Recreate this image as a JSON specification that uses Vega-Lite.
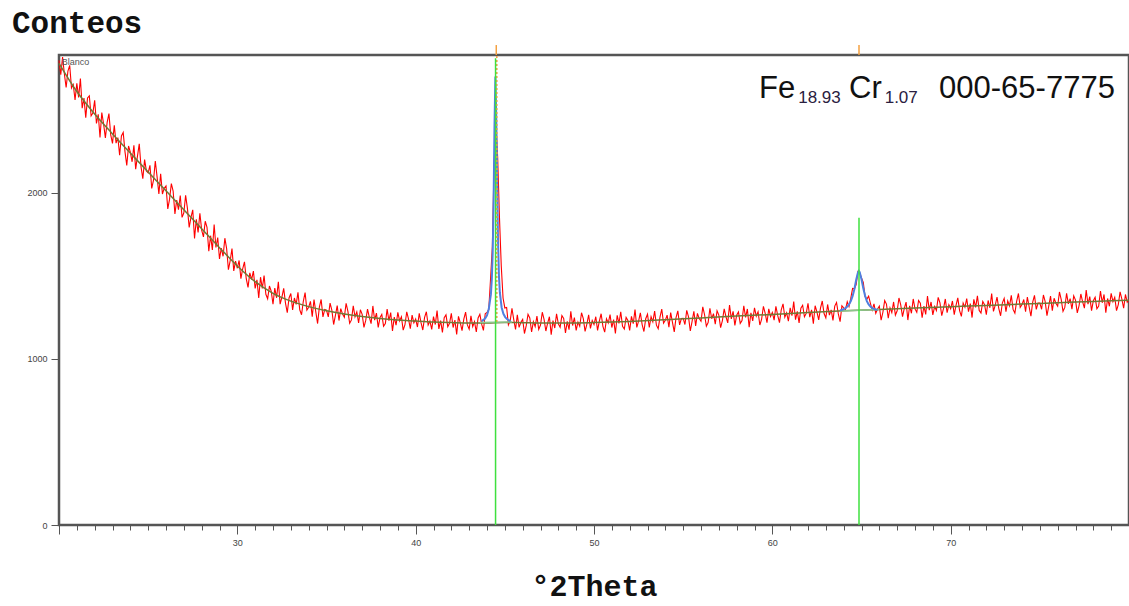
{
"$schema": "https://vega.github.io/schema/vega-lite/v6.json",
"width": 1070, "height": 470,
"autosize": {"type": "none"},
"padding": {"left": 59, "top": 55, "right": 0, "bottom": 81},
"background": "white",
"config": {"view": {"stroke": "#555", "strokeWidth": 2.5}, "font": "Liberation Sans"},
"title": {"text": "Conteos", "anchor": "start", "frame": "group", "font": "Liberation Mono", "fontSize": 31, "fontWeight": "bold", "color": "#111", "dx": -47, "offset": 4},
"datasets": {
"scan": [
{"t":20.0,"c":2798},{"t":20.1,"c":2711},{"t":20.2,"c":2818},{"t":20.3,"c":2717},{"t":20.4,"c":2634},{"t":20.5,"c":2733},{"t":20.6,"c":2768},{"t":20.7,"c":2631},{"t":20.8,"c":2652},{"t":20.9,"c":2559},
{"t":21.0,"c":2660},{"t":21.1,"c":2575},{"t":21.2,"c":2688},{"t":21.3,"c":2510},{"t":21.4,"c":2571},{"t":21.5,"c":2453},{"t":21.6,"c":2571},{"t":21.7,"c":2584},{"t":21.8,"c":2464},{"t":21.9,"c":2481},
{"t":22.0,"c":2557},{"t":22.1,"c":2418},{"t":22.2,"c":2473},{"t":22.3,"c":2334},{"t":22.4,"c":2484},{"t":22.5,"c":2415},{"t":22.6,"c":2331},{"t":22.7,"c":2424},{"t":22.8,"c":2477},{"t":22.9,"c":2349},
{"t":23.0,"c":2298},{"t":23.1,"c":2407},{"t":23.2,"c":2299},{"t":23.3,"c":2333},{"t":23.4,"c":2227},{"t":23.5,"c":2343},{"t":23.6,"c":2364},{"t":23.7,"c":2248},{"t":23.8,"c":2165},{"t":23.9,"c":2282},
{"t":24.0,"c":2245},{"t":24.1,"c":2187},{"t":24.2,"c":2286},{"t":24.3,"c":2143},{"t":24.4,"c":2221},{"t":24.5,"c":2295},{"t":24.6,"c":2156},{"t":24.7,"c":2085},{"t":24.8,"c":2200},{"t":24.9,"c":2132},
{"t":25.0,"c":2120},{"t":25.1,"c":2166},{"t":25.2,"c":2027},{"t":25.3,"c":2076},{"t":25.4,"c":2192},{"t":25.5,"c":2096},{"t":25.6,"c":1994},{"t":25.7,"c":2115},{"t":25.8,"c":1993},{"t":25.9,"c":2028},
{"t":26.0,"c":2042},{"t":26.1,"c":1903},{"t":26.2,"c":1962},{"t":26.3,"c":2056},{"t":26.4,"c":2011},{"t":26.5,"c":1873},{"t":26.6,"c":1956},{"t":26.7,"c":1899},{"t":26.8,"c":1984},{"t":26.9,"c":1852},
{"t":27.0,"c":1880},{"t":27.1,"c":1985},{"t":27.2,"c":1908},{"t":27.3,"c":1792},{"t":27.4,"c":1852},{"t":27.5,"c":1898},{"t":27.6,"c":1725},{"t":27.7,"c":1840},{"t":27.8,"c":1762},{"t":27.9,"c":1877},
{"t":28.0,"c":1776},{"t":28.1,"c":1735},{"t":28.2,"c":1829},{"t":28.3,"c":1792},{"t":28.4,"c":1648},{"t":28.5,"c":1742},{"t":28.6,"c":1656},{"t":28.7,"c":1809},{"t":28.8,"c":1671},{"t":28.9,"c":1731},
{"t":29.0,"c":1602},{"t":29.1,"c":1667},{"t":29.2,"c":1618},{"t":29.3,"c":1727},{"t":29.4,"c":1664},{"t":29.5,"c":1537},{"t":29.6,"c":1592},{"t":29.7,"c":1665},{"t":29.8,"c":1530},{"t":29.9,"c":1589},
{"t":30.0,"c":1546},{"t":30.1,"c":1593},{"t":30.2,"c":1483},{"t":30.3,"c":1542},{"t":30.4,"c":1584},{"t":30.5,"c":1483},{"t":30.6,"c":1431},{"t":30.7,"c":1518},{"t":30.8,"c":1478},{"t":30.9,"c":1529},
{"t":31.0,"c":1425},{"t":31.1,"c":1476},{"t":31.2,"c":1367},{"t":31.3,"c":1492},{"t":31.4,"c":1425},{"t":31.5,"c":1502},{"t":31.6,"c":1389},{"t":31.7,"c":1362},{"t":31.8,"c":1439},{"t":31.9,"c":1408},
{"t":32.0,"c":1329},{"t":32.1,"c":1426},{"t":32.2,"c":1368},{"t":32.3,"c":1465},{"t":32.4,"c":1330},{"t":32.5,"c":1372},{"t":32.6,"c":1425},{"t":32.7,"c":1336},{"t":32.8,"c":1279},{"t":32.9,"c":1367},
{"t":33.0,"c":1394},{"t":33.1,"c":1295},{"t":33.2,"c":1367},{"t":33.3,"c":1328},{"t":33.4,"c":1401},{"t":33.5,"c":1296},{"t":33.6,"c":1266},{"t":33.7,"c":1347},{"t":33.8,"c":1400},{"t":33.9,"c":1294},
{"t":34.0,"c":1311},{"t":34.1,"c":1347},{"t":34.2,"c":1255},{"t":34.3,"c":1358},{"t":34.4,"c":1283},{"t":34.5,"c":1213},{"t":34.6,"c":1312},{"t":34.7,"c":1358},{"t":34.8,"c":1253},{"t":34.9,"c":1297},
{"t":35.0,"c":1293},{"t":35.1,"c":1253},{"t":35.2,"c":1336},{"t":35.3,"c":1294},{"t":35.4,"c":1207},{"t":35.5,"c":1262},{"t":35.6,"c":1321},{"t":35.7,"c":1231},{"t":35.8,"c":1303},{"t":35.9,"c":1270},
{"t":36.0,"c":1251},{"t":36.1,"c":1335},{"t":36.2,"c":1286},{"t":36.3,"c":1215},{"t":36.4,"c":1235},{"t":36.5,"c":1319},{"t":36.6,"c":1254},{"t":36.7,"c":1283},{"t":36.8,"c":1217},{"t":36.9,"c":1296},
{"t":37.0,"c":1268},{"t":37.1,"c":1190},{"t":37.2,"c":1232},{"t":37.3,"c":1300},{"t":37.4,"c":1251},{"t":37.5,"c":1212},{"t":37.6,"c":1319},{"t":37.7,"c":1233},{"t":37.8,"c":1276},{"t":37.9,"c":1190},
{"t":38.0,"c":1249},{"t":38.1,"c":1268},{"t":38.2,"c":1197},{"t":38.3,"c":1213},{"t":38.4,"c":1300},{"t":38.5,"c":1230},{"t":38.6,"c":1279},{"t":38.7,"c":1168},{"t":38.8,"c":1252},{"t":38.9,"c":1203},
{"t":39.0,"c":1280},{"t":39.1,"c":1229},{"t":39.2,"c":1254},{"t":39.3,"c":1173},{"t":39.4,"c":1207},{"t":39.5,"c":1284},{"t":39.6,"c":1239},{"t":39.7,"c":1182},{"t":39.8,"c":1264},{"t":39.9,"c":1217},
{"t":40.0,"c":1240},{"t":40.1,"c":1192},{"t":40.2,"c":1275},{"t":40.3,"c":1218},{"t":40.4,"c":1174},{"t":40.5,"c":1250},{"t":40.6,"c":1284},{"t":40.7,"c":1204},{"t":40.8,"c":1228},{"t":40.9,"c":1178},
{"t":41.0,"c":1255},{"t":41.1,"c":1207},{"t":41.2,"c":1291},{"t":41.3,"c":1181},{"t":41.4,"c":1231},{"t":41.5,"c":1160},{"t":41.6,"c":1248},{"t":41.7,"c":1265},{"t":41.8,"c":1194},{"t":41.9,"c":1214},
{"t":42.0,"c":1274},{"t":42.1,"c":1189},{"t":42.2,"c":1234},{"t":42.3,"c":1148},{"t":42.4,"c":1256},{"t":42.5,"c":1218},{"t":42.6,"c":1170},{"t":42.7,"c":1240},{"t":42.8,"c":1282},{"t":42.9,"c":1205},
{"t":43.0,"c":1179},{"t":43.1,"c":1259},{"t":43.2,"c":1195},{"t":43.3,"c":1225},{"t":43.4,"c":1162},{"t":43.5,"c":1247},{"t":43.6,"c":1269},{"t":43.7,"c":1209},{"t":43.8,"c":1172},{"t":43.9,"c":1272},
{"t":44.0,"c":1280},{"t":44.1,"c":1299},{"t":44.2,"c":1484},{"t":44.3,"c":1676},{"t":44.4,"c":2186},{"t":44.5,"c":2418},{"t":44.6,"c":2209},{"t":44.7,"c":1850},{"t":44.8,"c":1560},{"t":44.9,"c":1367},
{"t":45.0,"c":1307},{"t":45.1,"c":1310},{"t":45.2,"c":1205},{"t":45.3,"c":1229},{"t":45.4,"c":1304},{"t":45.5,"c":1237},{"t":45.6,"c":1177},{"t":45.7,"c":1265},{"t":45.8,"c":1190},{"t":45.9,"c":1221},
{"t":46.0,"c":1238},{"t":46.1,"c":1153},{"t":46.2,"c":1200},{"t":46.3,"c":1269},{"t":46.4,"c":1247},{"t":46.5,"c":1162},{"t":46.6,"c":1225},{"t":46.7,"c":1195},{"t":46.8,"c":1258},{"t":46.9,"c":1178},
{"t":47.0,"c":1204},{"t":47.1,"c":1281},{"t":47.2,"c":1238},{"t":47.3,"c":1168},{"t":47.4,"c":1216},{"t":47.5,"c":1254},{"t":47.6,"c":1146},{"t":47.7,"c":1231},{"t":47.8,"c":1186},{"t":47.9,"c":1271},
{"t":48.0,"c":1211},{"t":48.1,"c":1191},{"t":48.2,"c":1261},{"t":48.3,"c":1244},{"t":48.4,"c":1156},{"t":48.5,"c":1226},{"t":48.6,"c":1176},{"t":48.7,"c":1286},{"t":48.8,"c":1201},{"t":48.9,"c":1249},
{"t":49.0,"c":1172},{"t":49.1,"c":1222},{"t":49.2,"c":1197},{"t":49.3,"c":1278},{"t":49.4,"c":1243},{"t":49.5,"c":1166},{"t":49.6,"c":1210},{"t":49.7,"c":1266},{"t":49.8,"c":1184},{"t":49.9,"c":1231},
{"t":50.0,"c":1207},{"t":50.1,"c":1254},{"t":50.2,"c":1172},{"t":50.3,"c":1228},{"t":50.4,"c":1272},{"t":50.5,"c":1196},{"t":50.6,"c":1161},{"t":50.7,"c":1241},{"t":50.8,"c":1216},{"t":50.9,"c":1267},
{"t":51.0,"c":1189},{"t":51.1,"c":1237},{"t":51.2,"c":1153},{"t":51.3,"c":1263},{"t":51.4,"c":1214},{"t":51.5,"c":1284},{"t":51.6,"c":1196},{"t":51.7,"c":1180},{"t":51.8,"c":1250},{"t":51.9,"c":1231},
{"t":52.0,"c":1171},{"t":52.1,"c":1256},{"t":52.2,"c":1212},{"t":52.3,"c":1297},{"t":52.4,"c":1190},{"t":52.5,"c":1228},{"t":52.6,"c":1277},{"t":52.7,"c":1207},{"t":52.8,"c":1165},{"t":52.9,"c":1242},
{"t":53.0,"c":1269},{"t":53.1,"c":1189},{"t":53.2,"c":1254},{"t":53.3,"c":1224},{"t":53.4,"c":1288},{"t":53.5,"c":1203},{"t":53.6,"c":1182},{"t":53.7,"c":1252},{"t":53.8,"c":1300},{"t":53.9,"c":1215},
{"t":54.0,"c":1233},{"t":54.1,"c":1264},{"t":54.2,"c":1191},{"t":54.3,"c":1279},{"t":54.4,"c":1220},{"t":54.5,"c":1163},{"t":54.6,"c":1249},{"t":54.7,"c":1289},{"t":54.8,"c":1205},{"t":54.9,"c":1243},
{"t":55.0,"c":1244},{"t":55.1,"c":1207},{"t":55.2,"c":1292},{"t":55.3,"c":1253},{"t":55.4,"c":1168},{"t":55.5,"c":1226},{"t":55.6,"c":1287},{"t":55.7,"c":1199},{"t":55.8,"c":1274},{"t":55.9,"c":1243},
{"t":56.0,"c":1227},{"t":56.1,"c":1313},{"t":56.2,"c":1266},{"t":56.3,"c":1197},{"t":56.4,"c":1219},{"t":56.5,"c":1305},{"t":56.6,"c":1242},{"t":56.7,"c":1273},{"t":56.8,"c":1209},{"t":56.9,"c":1290},
{"t":57.0,"c":1264},{"t":57.1,"c":1188},{"t":57.2,"c":1231},{"t":57.3,"c":1302},{"t":57.4,"c":1254},{"t":57.5,"c":1217},{"t":57.6,"c":1325},{"t":57.7,"c":1241},{"t":57.8,"c":1286},{"t":57.9,"c":1202},
{"t":58.0,"c":1263},{"t":58.1,"c":1283},{"t":58.2,"c":1214},{"t":58.3,"c":1231},{"t":58.4,"c":1320},{"t":58.5,"c":1250},{"t":58.6,"c":1301},{"t":58.7,"c":1191},{"t":58.8,"c":1277},{"t":58.9,"c":1229},
{"t":59.0,"c":1308},{"t":59.1,"c":1258},{"t":59.2,"c":1284},{"t":59.3,"c":1204},{"t":59.4,"c":1240},{"t":59.5,"c":1317},{"t":59.6,"c":1274},{"t":59.7,"c":1218},{"t":59.8,"c":1302},{"t":59.9,"c":1255},
{"t":60.0,"c":1280},{"t":60.1,"c":1234},{"t":60.2,"c":1317},{"t":60.3,"c":1262},{"t":60.4,"c":1218},{"t":60.5,"c":1296},{"t":60.6,"c":1332},{"t":60.7,"c":1252},{"t":60.8,"c":1278},{"t":60.9,"c":1228},
{"t":61.0,"c":1307},{"t":61.1,"c":1260},{"t":61.2,"c":1345},{"t":61.3,"c":1236},{"t":61.4,"c":1286},{"t":61.5,"c":1217},{"t":61.6,"c":1306},{"t":61.7,"c":1323},{"t":61.8,"c":1254},{"t":61.9,"c":1274},
{"t":62.0,"c":1335},{"t":62.1,"c":1251},{"t":62.2,"c":1296},{"t":62.3,"c":1212},{"t":62.4,"c":1320},{"t":62.5,"c":1283},{"t":62.6,"c":1235},{"t":62.7,"c":1306},{"t":62.8,"c":1349},{"t":62.9,"c":1273},
{"t":63.0,"c":1247},{"t":63.1,"c":1328},{"t":63.2,"c":1264},{"t":63.3,"c":1295},{"t":63.4,"c":1232},{"t":63.5,"c":1318},{"t":63.6,"c":1340},{"t":63.7,"c":1271},{"t":63.8,"c":1224},{"t":63.9,"c":1320},
{"t":64.0,"c":1307},{"t":64.1,"c":1296},{"t":64.2,"c":1344},{"t":64.3,"c":1315},{"t":64.4,"c":1366},{"t":64.5,"c":1424},{"t":64.6,"c":1422},{"t":64.7,"c":1448},{"t":64.8,"c":1526},{"t":64.9,"c":1517},
{"t":65.0,"c":1487},{"t":65.1,"c":1461},{"t":65.2,"c":1375},{"t":65.3,"c":1360},{"t":65.4,"c":1378},{"t":65.5,"c":1335},{"t":65.6,"c":1295},{"t":65.7,"c":1332},{"t":65.8,"c":1275},{"t":65.9,"c":1301},
{"t":66.0,"c":1318},{"t":66.1,"c":1233},{"t":66.2,"c":1281},{"t":66.3,"c":1351},{"t":66.4,"c":1330},{"t":66.5,"c":1245},{"t":66.6,"c":1308},{"t":66.7,"c":1279},{"t":66.8,"c":1343},{"t":66.9,"c":1264},
{"t":67.0,"c":1290},{"t":67.1,"c":1367},{"t":67.2,"c":1325},{"t":67.3,"c":1255},{"t":67.4,"c":1304},{"t":67.5,"c":1342},{"t":67.6,"c":1234},{"t":67.7,"c":1320},{"t":67.8,"c":1275},{"t":67.9,"c":1361},
{"t":68.0,"c":1301},{"t":68.1,"c":1281},{"t":68.2,"c":1352},{"t":68.3,"c":1335},{"t":68.4,"c":1248},{"t":68.5,"c":1318},{"t":68.6,"c":1268},{"t":68.7,"c":1379},{"t":68.8,"c":1294},{"t":68.9,"c":1343},
{"t":69.0,"c":1265},{"t":69.1,"c":1315},{"t":69.2,"c":1291},{"t":69.3,"c":1371},{"t":69.4,"c":1337},{"t":69.5,"c":1260},{"t":69.6,"c":1304},{"t":69.7,"c":1361},{"t":69.8,"c":1278},{"t":69.9,"c":1326},
{"t":70.0,"c":1302},{"t":70.1,"c":1349},{"t":70.2,"c":1267},{"t":70.3,"c":1323},{"t":70.4,"c":1368},{"t":70.5,"c":1291},{"t":70.6,"c":1256},{"t":70.7,"c":1337},{"t":70.8,"c":1312},{"t":70.9,"c":1363},
{"t":71.0,"c":1285},{"t":71.1,"c":1333},{"t":71.2,"c":1249},{"t":71.3,"c":1359},{"t":71.4,"c":1310},{"t":71.5,"c":1380},{"t":71.6,"c":1292},{"t":71.7,"c":1276},{"t":71.8,"c":1346},{"t":71.9,"c":1327},
{"t":72.0,"c":1267},{"t":72.1,"c":1352},{"t":72.2,"c":1308},{"t":72.3,"c":1393},{"t":72.4,"c":1286},{"t":72.5,"c":1324},{"t":72.6,"c":1372},{"t":72.7,"c":1303},{"t":72.8,"c":1260},{"t":72.9,"c":1338},
{"t":73.0,"c":1364},{"t":73.1,"c":1284},{"t":73.2,"c":1349},{"t":73.3,"c":1319},{"t":73.4,"c":1383},{"t":73.5,"c":1298},{"t":73.6,"c":1276},{"t":73.7,"c":1347},{"t":73.8,"c":1394},{"t":73.9,"c":1310},
{"t":74.0,"c":1327},{"t":74.1,"c":1358},{"t":74.2,"c":1285},{"t":74.3,"c":1373},{"t":74.4,"c":1314},{"t":74.5,"c":1257},{"t":74.6,"c":1342},{"t":74.7,"c":1383},{"t":74.8,"c":1298},{"t":74.9,"c":1337},
{"t":75.0,"c":1337},{"t":75.1,"c":1299},{"t":75.2,"c":1385},{"t":75.3,"c":1345},{"t":75.4,"c":1261},{"t":75.5,"c":1318},{"t":75.6,"c":1378},{"t":75.7,"c":1291},{"t":75.8,"c":1365},{"t":75.9,"c":1335},
{"t":76.0,"c":1318},{"t":76.1,"c":1403},{"t":76.2,"c":1357},{"t":76.3,"c":1287},{"t":76.4,"c":1310},{"t":76.5,"c":1395},{"t":76.6,"c":1332},{"t":76.7,"c":1363},{"t":76.8,"c":1299},{"t":76.9,"c":1380},
{"t":77.0,"c":1354},{"t":77.1,"c":1277},{"t":77.2,"c":1321},{"t":77.3,"c":1391},{"t":77.4,"c":1344},{"t":77.5,"c":1306},{"t":77.6,"c":1414},{"t":77.7,"c":1330},{"t":77.8,"c":1375},{"t":77.9,"c":1291},
{"t":78.0,"c":1351},{"t":78.1,"c":1371},{"t":78.2,"c":1302},{"t":78.3,"c":1319},{"t":78.4,"c":1408},{"t":78.5,"c":1338},{"t":78.6,"c":1388},{"t":78.7,"c":1279},{"t":78.8,"c":1364},{"t":78.9,"c":1317},
{"t":79.0,"c":1395},{"t":79.1,"c":1345},{"t":79.2,"c":1371},{"t":79.3,"c":1291},{"t":79.4,"c":1327},{"t":79.5,"c":1404},{"t":79.6,"c":1360},{"t":79.7,"c":1305},{"t":79.8,"c":1388},{"t":79.9,"c":1342},
{"t":80.0,"c":1357}
],
"bg": [
{"t":20,"c":2780},{"t":21,"c":2610},{"t":22,"c":2475},{"t":23,"c":2355},{"t":24,"c":2240},{"t":25,"c":2125},{"t":26,"c":2012},{"t":27,"c":1898},{"t":28,"c":1784},{"t":29,"c":1670},{"t":30,"c":1560},{"t":31,"c":1465},{"t":32,"c":1395},{"t":33,"c":1348},{"t":34,"c":1315},{"t":35,"c":1290},{"t":36,"c":1271},{"t":37,"c":1256},{"t":38,"c":1244},{"t":39,"c":1235},{"t":40,"c":1228},{"t":41,"c":1222},{"t":42,"c":1219},{"t":43,"c":1217},{"t":44,"c":1217},{"t":45,"c":1220},{"t":46,"c":1218},{"t":47,"c":1216},{"t":48,"c":1216},{"t":49,"c":1217},{"t":50,"c":1219},{"t":52,"c":1226},{"t":54,"c":1236},{"t":56,"c":1247},{"t":58,"c":1258},{"t":60,"c":1268},{"t":62,"c":1280},{"t":64,"c":1290},{"t":66,"c":1298},{"t":68,"c":1306},{"t":70,"c":1314},{"t":72,"c":1322},{"t":74,"c":1330},{"t":76,"c":1338},{"t":78,"c":1346},{"t":80,"c":1354}
],
"fit": [
{"p":1,"t":43.7,"c":1228},{"p":1,"t":43.8,"c":1235},{"p":1,"t":43.9,"c":1245},{"p":1,"t":44.0,"c":1262},{"p":1,"t":44.1,"c":1300},{"p":1,"t":44.22,"c":1390},{"p":1,"t":44.27,"c":1480},{"p":1,"t":44.32,"c":1640},{"p":1,"t":44.37,"c":1950},{"p":1,"t":44.42,"c":2400},{"p":1,"t":44.47,"c":2700},{"p":1,"t":44.52,"c":2450},{"p":1,"t":44.57,"c":2050},{"p":1,"t":44.62,"c":1700},{"p":1,"t":44.67,"c":1500},{"p":1,"t":44.72,"c":1400},{"p":1,"t":44.82,"c":1310},{"p":1,"t":44.92,"c":1272},{"p":1,"t":45.02,"c":1252},{"p":1,"t":45.12,"c":1240},{"p":1,"t":45.22,"c":1233},{"p":1,"t":45.32,"c":1228},
{"p":2,"t":63.8,"c":1292},{"p":2,"t":63.9,"c":1296},{"p":2,"t":64.0,"c":1300},{"p":2,"t":64.1,"c":1306},{"p":2,"t":64.2,"c":1315},{"p":2,"t":64.3,"c":1328},{"p":2,"t":64.4,"c":1348},{"p":2,"t":64.5,"c":1378},{"p":2,"t":64.6,"c":1420},{"p":2,"t":64.7,"c":1475},{"p":2,"t":64.8,"c":1520},{"p":2,"t":64.85,"c":1530},{"p":2,"t":64.9,"c":1522},{"p":2,"t":65.0,"c":1480},{"p":2,"t":65.1,"c":1425},{"p":2,"t":65.2,"c":1380},{"p":2,"t":65.3,"c":1348},{"p":2,"t":65.4,"c":1328},{"p":2,"t":65.5,"c":1315},{"p":2,"t":65.6,"c":1306},{"p":2,"t":65.7,"c":1301},{"p":2,"t":65.8,"c":1298},{"p":2,"t":65.9,"c":1296}
],
"base": [
{"p":1,"t":43.6,"c":1219},{"p":1,"t":45.4,"c":1222},{"p":2,"t":63.8,"c":1288},{"p":2,"t":66.0,"c":1298}
],
"sticks": [
{"t":44.48,"c":0,"c2":2810},{"t":64.86,"c":0,"c2":1850}
],
"marks": [
{"t":44.52,"c":2830,"c2":2890},{"t":64.86,"c":2830,"c2":2890}
],
"dotted": [
{"t":44.55,"c":1222,"c2":2830}
],
"lblMain": [
{"t":59.25,"c":2569,"s":"Fe"},{"t":64.3,"c":2569,"s":"Cr"},{"t":69.35,"c":2569,"s":"000-65-7775"}
],
"lblSub": [
{"t":61.45,"c":2539,"s":"18.93"},{"t":66.3,"c":2539,"s":"1.07"}
],
"lblBlanco": [
{"t":20.15,"c":2768,"s":"Blanco"}
]
},
"encoding": {
"x": {"field": "t", "type": "quantitative",
 "scale": {"domain": [20, 80], "nice": false, "zero": false},
 "axis": {"title": "°2Theta", "titleFont": "Liberation Mono", "titleFontSize": 30, "titleFontWeight": "bold", "titleColor": "#111", "titlePadding": 24,
  "values": [20,21,22,23,24,25,26,27,28,29,30,31,32,33,34,35,36,37,38,39,40,41,42,43,44,45,46,47,48,49,50,51,52,53,54,55,56,57,58,59,60,61,62,63,64,65,66,67,68,69,70,71,72,73,74,75,76,77,78,79],
  "labelExpr": "datum.value % 10 === 0 && datum.value > 20 ? datum.label : ''",
  "labelOverlap": false, "labelBound": false, "labelFlush": false,
  "tickSize": {"condition": {"test": "datum.value % 10 === 0", "value": 9}, "value": 5},
  "tickColor": "#555", "domain": false, "grid": false, "labelFontSize": 9, "labelColor": "#444", "labelPadding": 4}},
"y": {"field": "c", "type": "quantitative",
 "scale": {"domain": [0, 2830], "nice": false, "zero": false},
 "axis": {"title": null, "values": [0, 1000, 2000], "format": "d", "tickSize": 8, "tickColor": "#555", "domain": false, "grid": false, "labelFontSize": 9, "labelColor": "#444", "labelPadding": 4}}
},
"layer": [
{"data": {"name": "scan"}, "mark": {"type": "line", "color": "#ff0000", "strokeWidth": 1.1}},
{"data": {"name": "bg"}, "mark": {"type": "line", "color": "#6f7a35", "strokeWidth": 1.5, "interpolate": "monotone"}},
{"data": {"name": "base"}, "mark": {"type": "line", "color": "#8cc68c", "strokeWidth": 1.5}, "encoding": {"detail": {"field": "p", "type": "nominal"}}},
{"data": {"name": "fit"}, "mark": {"type": "line", "color": "#4f7fe0", "strokeWidth": 2}, "encoding": {"detail": {"field": "p", "type": "nominal"}}},
{"data": {"name": "dotted"}, "mark": {"type": "rule", "color": "#f4a040", "strokeWidth": 1.5, "strokeDash": [2, 2]}, "encoding": {"y2": {"field": "c2"}}},
{"data": {"name": "sticks"}, "mark": {"type": "rule", "color": "#3fe03f", "strokeWidth": 1.5}, "encoding": {"y2": {"field": "c2"}}},
{"data": {"name": "marks"}, "mark": {"type": "rule", "color": "#f4a040", "strokeWidth": 1.5}, "encoding": {"y2": {"field": "c2"}}},
{"data": {"name": "lblMain"}, "mark": {"type": "text", "align": "left", "baseline": "alphabetic", "fontSize": 31, "font": "Liberation Sans", "color": "#111"}, "encoding": {"text": {"field": "s"}}},
{"data": {"name": "lblSub"}, "mark": {"type": "text", "align": "left", "baseline": "alphabetic", "fontSize": 17, "font": "Liberation Sans", "color": "#2a2040"}, "encoding": {"text": {"field": "s"}}},
{"data": {"name": "lblBlanco"}, "mark": {"type": "text", "align": "left", "baseline": "alphabetic", "fontSize": 9, "font": "Liberation Sans", "color": "#555"}, "encoding": {"text": {"field": "s"}}}
]
}
